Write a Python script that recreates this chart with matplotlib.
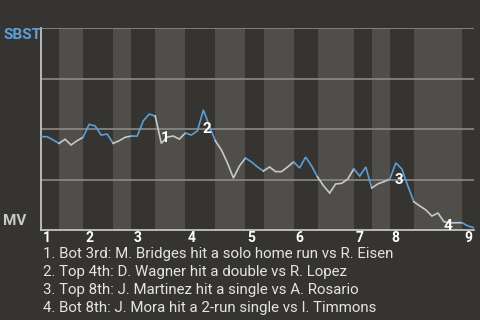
import matplotlib
matplotlib.use("Agg")
import matplotlib.pyplot as plt

# SBST win probability after each plate appearance (0 = MV wins, 1 = SBST wins)
win_prob = [
    0.462, 0.462, 0.446, 0.429, 0.449, 0.421, 0.442, 0.459, 0.523, 0.515,
    0.470, 0.475, 0.429, 0.442, 0.459, 0.465, 0.465, 0.540, 0.574, 0.564,
    0.429, 0.460, 0.465, 0.450, 0.480, 0.470, 0.490, 0.594, 0.515, 0.441,
    0.396, 0.332, 0.257, 0.317, 0.356, 0.337, 0.312, 0.292, 0.312, 0.289,
    0.289, 0.312, 0.337, 0.307, 0.361, 0.317, 0.262, 0.218, 0.183, 0.228,
    0.231, 0.252, 0.302, 0.267, 0.312, 0.208, 0.228, 0.239, 0.252, 0.332,
    0.302, 0.218, 0.140, 0.119, 0.099, 0.069, 0.084, 0.041, 0.035, 0.036,
    0.036, 0.020, 0.011,
]
# plate appearance index where each half inning starts (top 1st, bot 1st, ...)
half_starts = [0, 3, 7, 12, 15, 19, 24, 29, 34, 37, 42, 46, 52, 55, 58, 62, 70, 72]
inning_labels = ["1", "2", "3", "4", "5", "6", "7", "8", "9"]

# key plays: plate appearance that ends the play, and its description
key_plays = [20, 27, 59, 67]
key_text = [
    "1. Bot 3rd: M. Bridges hit a solo home run vs R. Eisen",
    "2. Top 4th: D. Wagner hit a double vs R. Lopez",
    "3. Top 8th: J. Martinez hit a single vs A. Rosario",
    "4. Bot 8th: J. Mora hit a 2-run single vs I. Timmons",
]

BG = "#363430"
BAND = "#4f4e4b"
GRID = "#8c8a86"
AXIS = "#c4c4c4"
BLUE = "#5b9fda"
GREY = "#c8c8c8"
TEXT = "#e4e4e4"

plt.rcParams["font.family"] = ["Roboto", "DejaVu Sans"]

fig = plt.figure(figsize=(4.8, 3.2), dpi=100, facecolor=BG)
ax = fig.add_axes([41 / 480, 90 / 320, 433 / 480, 202 / 320])
ax.set_facecolor(BG)

n = len(win_prob) - 1
ax.set_xlim(0, n)
ax.set_ylim(0, 1)

# bottom halves get a lighter band
for i in range(len(half_starts) - 1):
    if i % 2 == 1:
        ax.axvspan(half_starts[i], half_starts[i + 1], color=BAND, lw=0, zorder=0)

for y in [0.25, 0.5, 0.75, 1.0]:
    ax.axhline(y, color=GRID, lw=1.2, zorder=1)

# line coloured by batting team
xs = list(range(len(win_prob)))
for i in range(len(half_starts) - 1):
    s, e = half_starts[i], half_starts[i + 1]
    color = BLUE if i % 2 == 0 else GREY
    ax.plot(xs[s:e + 1], win_prob[s:e + 1], color=color, lw=1.2,
            solid_joinstyle="miter", zorder=3)

for num, k in enumerate(key_plays, start=1):
    mid = (k - 0.5, (win_prob[k - 1] + win_prob[k]) / 2)
    ax.annotate(str(num), xy=mid, xytext=(6.5, -12.5), textcoords="offset pixels",
                ha="center", va="baseline", color="white", fontsize=11,
                fontweight="bold", zorder=4)

for spine in ["top", "right"]:
    ax.spines[spine].set_visible(False)
for spine in ["left", "bottom"]:
    ax.spines[spine].set_color(AXIS)
    ax.spines[spine].set_linewidth(1.3)
ax.set_xticks([])
ax.set_yticks([])

for lab, x in zip(inning_labels, half_starts[0::2]):
    ax.annotate(lab, xy=(x, 0), xycoords=("data", "axes fraction"),
                xytext=(2, -12.5), textcoords="offset pixels",
                ha="left", va="baseline", color="white", fontsize=10,
                fontweight="bold")

fig.text(3 / 480, (320 - 39.3) / 320, "SBST", color=BLUE, fontsize=11,
         fontweight="bold", ha="left", va="baseline")
fig.text(3 / 480, (320 - 225) / 320, "MV", color=GREY, fontsize=11,
         fontweight="bold", ha="left", va="baseline")

for i, line in enumerate(key_text):
    fig.text(43 / 480, (320 - 258.3 - i * 17.8) / 320, line, color=TEXT,
             fontsize=10.8, ha="left", va="baseline")

fig.savefig("out.png", dpi=100, facecolor=BG)
